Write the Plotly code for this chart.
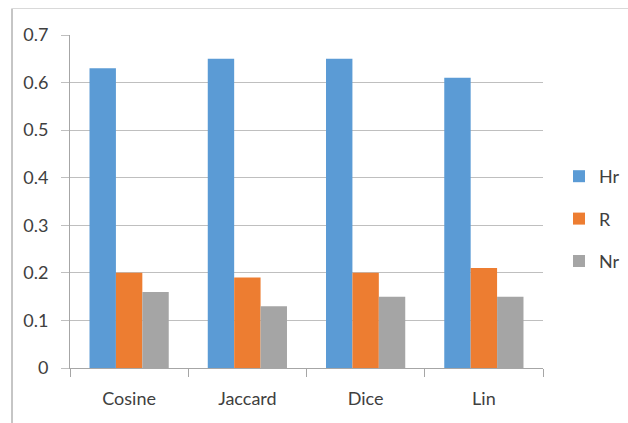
import plotly.graph_objects as go

# Similarity measures and the share of each relevance class
categories = ["Cosine", "Jaccard", "Dice", "Lin"]
hr_values = [0.63, 0.65, 0.65, 0.61]
r_values = [0.20, 0.19, 0.20, 0.21]
nr_values = [0.16, 0.13, 0.15, 0.15]
y_ticks = [0, 0.1, 0.2, 0.3, 0.4, 0.5, 0.6, 0.7]
y_tick_text = ["0", "0.1", "0.2", "0.3", "0.4", "0.5", "0.6", "0.7"]

series = [
    ("Hr", hr_values, "#5B9BD5"),
    ("R", r_values, "#ED7D31"),
    ("Nr", nr_values, "#A5A5A5"),
]

W, H = 628, 423
ML, MR, MT, MB = 70, 85, 35, 55
PW, PH = W - ML - MR, H - MT - MB


def px_x(p):
    return (p - ML) / PW


def px_y(p):
    return (H - MB - p) / PH


fig = go.Figure()
for name, vals, color in series:
    fig.add_trace(go.Bar(
        x=categories, y=vals, name=name, legendgroup=name,
        marker=dict(color=color, line=dict(width=0)),
    ))

font_family = "Lato, Carlito, Calibri, sans-serif"

fig.update_layout(
    width=W, height=H,
    margin=dict(l=ML, r=MR, t=MT, b=MB, pad=0, autoexpand=False),
    paper_bgcolor="white", plot_bgcolor="white",
    barmode="group", bargap=0.33, bargroupgap=0,
    font=dict(family=font_family, size=18, color="#404040"),
    showlegend=True,
    legend=dict(
        x=px_x(559), y=px_y(158), xanchor="left", yanchor="top",
        traceorder="grouped", tracegroupgap=16,
        font=dict(size=18, color="#404040"),
        bgcolor="rgba(0,0,0,0)", itemwidth=30,
    ),
    xaxis=dict(
        showline=True, linecolor="#a6a6a6", linewidth=1,
        ticks="outside", ticklen=8, tickcolor="#a6a6a6",
        tickson="boundaries", showgrid=False, ticklabelstandoff=14,
        tickfont=dict(size=18, color="#404040"),
    ),
    yaxis=dict(
        range=[0, 0.7], tickvals=y_ticks, ticktext=y_tick_text,
        showline=True, linecolor="#a6a6a6", linewidth=1,
        ticks="outside", ticklen=8, tickcolor="#bfbfbf",
        showgrid=True, gridcolor="#bfbfbf", gridwidth=1,
        zeroline=False, ticklabelstandoff=9,
        tickfont=dict(size=18, color="#404040"),
    ),
    shapes=[
        dict(type="line", xref="paper", yref="paper",
             x0=px_x(12), x1=px_x(12), y0=px_y(8.5), y1=px_y(430),
             line=dict(color="#8c8c8c", width=1)),
        dict(type="line", xref="paper", yref="paper",
             x0=px_x(12), x1=px_x(640), y0=px_y(8.5), y1=px_y(8.5),
             line=dict(color="#d9d9d9", width=1)),
    ],
)

fig.write_html("out.html")
